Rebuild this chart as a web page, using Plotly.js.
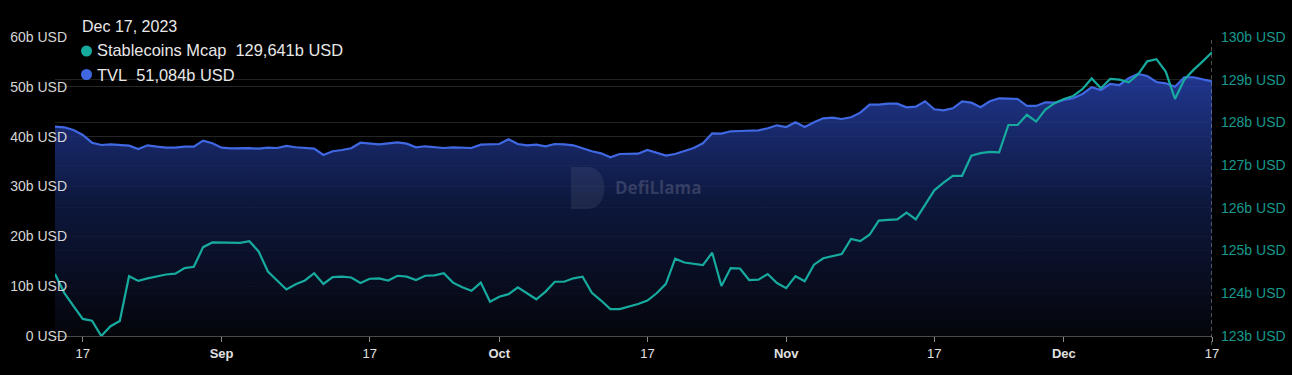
<!DOCTYPE html>
<html>
<head>
<meta charset="utf-8">
<script src="https://cdn.plot.ly/plotly-3.0.1.min.js"></script>
<style>
  html, body { margin: 0; padding: 0; background: #000; }
  #chart { width: 1292px; height: 375px; }
</style>
</head>
<body>
<div id="chart"></div>
<script>
// ---------- DATA ----------
const startDate = '2023-08-14'; // first daily point; series run through Dec 17, 2023

// TVL (billions USD, left axis)
const tvl = [
  42.00, 41.88, 41.34, 40.34, 38.79, 38.33, 38.47, 38.33, 38.19, 37.53,
  38.27, 37.99, 37.79, 37.79, 37.99, 37.99, 39.19, 38.67, 37.79, 37.67,
  37.73, 37.70, 37.59, 37.79, 37.73, 38.13, 37.87, 37.79, 37.59, 36.32,
  37.07, 37.33, 37.67, 38.79, 38.67, 38.47, 38.67, 38.87, 38.59, 37.87,
  38.07, 37.90, 37.73, 37.87, 37.79, 37.73, 38.39, 38.53, 38.53, 39.47,
  38.53, 38.27, 38.39, 38.07, 38.53, 38.47, 38.27, 37.67, 37.07, 36.66,
  35.86, 36.52, 36.62, 36.59, 37.33, 36.79, 36.19, 36.52, 37.07, 37.73,
  38.67, 40.68, 40.60, 41.08, 41.14, 41.21, 41.28, 41.68, 42.28, 41.94,
  42.89, 41.94, 42.90, 43.69, 43.81, 43.55, 43.89, 44.81, 46.42, 46.42,
  46.62, 46.62, 45.90, 46.02, 47.10, 45.49, 45.29, 45.70, 47.10, 46.82,
  45.90, 47.10, 47.70, 47.62, 47.56, 46.16, 46.16, 46.90, 46.82, 47.36,
  47.70, 48.57, 49.91, 49.37, 50.57, 50.37, 51.72, 52.58, 52.18, 50.97,
  50.71, 50.03, 51.92, 51.92, 51.52, 51.084
];

// Stablecoins market cap (billions USD, right axis)
const stablecoins = [
  124.45, 124.01, 123.70, 123.40, 123.36, 123.00, 123.23, 123.35, 124.40, 124.29,
  124.35, 124.40, 124.44, 124.46, 124.59, 124.62, 125.08, 125.19, 125.19, 125.18,
  125.18, 125.22, 124.98, 124.51, 124.30, 124.09, 124.21, 124.30, 124.47, 124.22,
  124.38, 124.39, 124.37, 124.24, 124.34, 124.35, 124.30, 124.41, 124.39, 124.31,
  124.41, 124.42, 124.47, 124.25, 124.14, 124.06, 124.25, 123.80, 123.92, 123.98,
  124.14, 124.00, 123.86, 124.04, 124.27, 124.27, 124.35, 124.39, 124.01, 123.83,
  123.63, 123.63, 123.69, 123.75, 123.83, 124.00, 124.22, 124.81, 124.72, 124.69,
  124.66, 124.95, 124.17, 124.59, 124.58, 124.31, 124.32, 124.45, 124.24, 124.12,
  124.40, 124.28, 124.67, 124.82, 124.87, 124.92, 125.27, 125.22, 125.37, 125.70,
  125.72, 125.73, 125.89, 125.73, 126.07, 126.41, 126.59, 126.75, 126.75, 127.22,
  127.28, 127.31, 127.30, 127.94, 127.94, 128.18, 128.02, 128.30, 128.45, 128.55,
  128.62, 128.78, 129.03, 128.80, 129.02, 129.00, 128.94, 129.12, 129.43, 129.48,
  129.19, 128.55, 129.00, 129.23, 129.43, 129.641
];

const xTickVals = ['2023-08-17','2023-09-01','2023-09-17','2023-10-01','2023-10-17',
                   '2023-11-01','2023-11-17','2023-12-01','2023-12-17'];
const xTickText = ['17','<b>Sep</b>','17','<b>Oct</b>','17','<b>Nov</b>','17','<b>Dec</b>','17'];

const leftTickVals = [0, 10, 20, 30, 40, 50, 60];
const leftTickText = ['0 USD','10b USD','20b USD','30b USD','40b USD','50b USD','60b USD'];

const rightTickVals = [123, 124, 125, 126, 127, 128, 129, 130];
const rightTickText = ['123b USD','124b USD','125b USD','126b USD','127b USD','128b USD','129b USD','130b USD'];

const seriesNames = ['Stablecoins Mcap', 'TVL'];

// ---------- BUILD ----------
const dates = [];
(function () {
  const p = startDate.split('-').map(Number);
  for (let i = 0; i < tvl.length; i++) {
    dates.push(new Date(Date.UTC(p[0], p[1] - 1, p[2] + i)).toISOString().slice(0, 10));
  }
})();

const lastDate = dates[dates.length - 1];
const months = ['Jan','Feb','Mar','Apr','May','Jun','Jul','Aug','Sep','Oct','Nov','Dec'];
function fmtDate(s) {
  const p = s.split('-').map(Number);
  return months[p[1] - 1] + ' ' + p[2] + ', ' + p[0];
}
function fmtVal(v) { return v.toFixed(3).replace('.', ',') + 'b USD'; }

const FONT = 'Liberation Sans, Arial, Helvetica, sans-serif';
const TEAL = '#17ab9f';
const BLUE = '#4068e3';

const traces = [
  {
    x: dates, y: tvl, type: 'scatter', mode: 'lines', name: seriesNames[1],
    line: { color: BLUE, width: 2.2 },
    fill: 'tozeroy',
    fillgradient: {
      type: 'vertical', start: 0, stop: 53,
      colorscale: [[0, 'rgba(5,6,12,0.88)'], [0.5, 'rgba(15,27,70,0.86)'], [1, 'rgba(38,64,168,0.86)']]
    },
    yaxis: 'y', hoverinfo: 'skip'
  },
  {
    x: dates, y: stablecoins, type: 'scatter', mode: 'lines', name: seriesNames[0],
    line: { color: TEAL, width: 2.2 },
    yaxis: 'y2', hoverinfo: 'skip'
  }
];

const W = 1292, H = 375, ML = 55, MR = 80, MT = 37, MB = 39;
const PW = W - ML - MR, PH = H - MT - MB;
const px2x = px => (px - ML) / PW;
const px2y = py => (H - MB - py) / PH;

const layout = {
  width: W, height: H,
  margin: { l: ML, r: MR, t: MT, b: MB, pad: 0 },
  paper_bgcolor: '#000', plot_bgcolor: '#000',
  showlegend: false,
  font: { family: FONT, color: '#dcdcdc', size: 14 },
  xaxis: {
    type: 'date', range: [dates[0], lastDate],
    tickvals: xTickVals, ticktext: xTickText,
    showgrid: false, zeroline: false,
    showline: true, linecolor: '#4a4a4a', linewidth: 1,
    ticks: 'outside', ticklen: 5, tickcolor: '#8a8a8a', tickwidth: 1,
    tickfont: { size: 13, color: '#e0e0e0', family: FONT },
    anchor: 'y'
  },
  yaxis: {
    range: [0, 60], tickvals: leftTickVals, ticktext: leftTickText,
    showgrid: true, gridcolor: '#262626', gridwidth: 1,
    zeroline: false, showline: false, ticks: '',
    tickfont: { size: 14, color: '#d6d6d6', family: FONT },
    anchor: 'free', position: px2x(67)
  },
  yaxis2: {
    range: [123, 130], tickvals: rightTickVals, ticktext: rightTickText,
    overlaying: 'y', side: 'right', anchor: 'x',
    showgrid: true, gridcolor: '#222222', gridwidth: 1,
    zeroline: false, showline: false, ticks: '',
    ticklabelstandoff: 8,
    tickfont: { size: 14, color: '#17998e', family: FONT }
  },
  shapes: [
    { type: 'line', xref: 'x', yref: 'paper', x0: lastDate, x1: lastDate, y0: -0.03, y1: 1,
      line: { color: '#9a9a9a', width: 1, dash: '4px,3px' } },
    { type: 'circle', xref: 'paper', yref: 'paper', xsizemode: 'pixel', ysizemode: 'pixel',
      xanchor: px2x(86.5), yanchor: px2y(51), x0: -5.5, x1: 5.5, y0: -5.5, y1: 5.5,
      fillcolor: TEAL, line: { width: 0 } },
    { type: 'circle', xref: 'paper', yref: 'paper', xsizemode: 'pixel', ysizemode: 'pixel',
      xanchor: px2x(86.5), yanchor: px2y(74.5), x0: -5.5, x1: 5.5, y0: -5.5, y1: 5.5,
      fillcolor: BLUE, line: { width: 0 } },
    { type: 'path', xref: 'paper', yref: 'paper',
      path: 'M ' + px2x(571) + ',' + px2y(167) + ' L ' + px2x(588) + ',' + px2y(167) +
            ' C ' + px2x(610) + ',' + px2y(167) + ' ' + px2x(610) + ',' + px2y(209) + ' ' + px2x(588) + ',' + px2y(209) +
            ' L ' + px2x(571) + ',' + px2y(209) + ' Z',
      fillcolor: 'rgba(255,255,255,0.07)', line: { width: 0 } }
  ],
  annotations: [
    { xref: 'paper', yref: 'paper', x: px2x(80), y: px2y(26), xanchor: 'left', yanchor: 'middle',
      text: fmtDate(lastDate), showarrow: false,
      font: { size: 16, color: '#e8e8e8', family: FONT } },
    { xref: 'paper', yref: 'paper', x: px2x(95), y: px2y(50.5), xanchor: 'left', yanchor: 'middle',
      text: seriesNames[0] + '\u00a0\u00a0' + fmtVal(stablecoins[stablecoins.length - 1]), showarrow: false,
      font: { size: 16.4, color: '#e8e8e8', family: FONT } },
    { xref: 'paper', yref: 'paper', x: px2x(95), y: px2y(74.5), xanchor: 'left', yanchor: 'middle',
      text: seriesNames[1] + '\u00a0\u00a0' + fmtVal(tvl[tvl.length - 1]), showarrow: false,
      font: { size: 16.4, color: '#e8e8e8', family: FONT } },
    { xref: 'paper', yref: 'paper', x: px2x(658), y: px2y(187), xanchor: 'center', yanchor: 'middle',
      text: '<b>DefiLlama</b>', showarrow: false,
      font: { size: 17, color: 'rgba(255,255,255,0.16)', family: 'Open Sans, sans-serif' } }
  ]
};

Plotly.newPlot('chart', traces, layout, { staticPlot: true, displayModeBar: false });
</script>
</body>
</html>
